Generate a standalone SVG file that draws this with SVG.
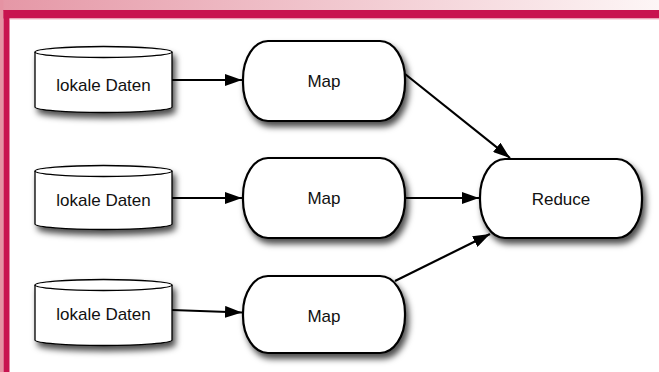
<svg xmlns="http://www.w3.org/2000/svg" width="659" height="372" viewBox="0 0 659 372">
<defs>
<linearGradient id="topg" x1="0" y1="0" x2="1" y2="0">
<stop offset="0" stop-color="#e597a6"/>
<stop offset="1" stop-color="#fdf6f6"/>
</linearGradient>
<filter id="sh" x="-20%" y="-20%" width="150%" height="160%">
<feDropShadow dx="3" dy="5" stdDeviation="3" flood-color="#000" flood-opacity="0.7"/>
</filter>
<marker id="ah" viewBox="0 0 17 12" refX="17" refY="6" markerWidth="17" markerHeight="12" markerUnits="userSpaceOnUse" orient="auto">
<path d="M0,0 L17,6 L0,12 Z" fill="#000"/>
</marker>
<style>
.node{fill:#fff;stroke:#000;stroke-width:2.2;filter:url(#sh)}
.cyl{fill:#fff;stroke:#000;stroke-width:1.3;filter:url(#sh)}
.cyl2{fill:none;stroke:#000;stroke-width:1.3}
.lbl{font-family:"Liberation Sans",Arial,sans-serif;font-size:17px;fill:#111;text-anchor:middle}
.edge{stroke:#000;stroke-width:2.2;fill:none;marker-end:url(#ah)}
</style>
</defs>
<rect x="0" y="0" width="659" height="372" fill="#fff"/>
<rect x="0" y="0" width="659" height="11" fill="url(#topg)"/>
<rect x="0" y="0" width="3.5" height="372" fill="#e593a3"/>
<rect x="3.5" y="10" width="655.5" height="8.5" fill="#c8134f"/>
<rect x="3.5" y="10" width="6" height="362" fill="#c8134f"/>
<rect x="9.5" y="18.5" width="649.5" height="1" fill="#f2b9c6"/>

<g id="cyl1">
<path class="cyl" d="M35,52 A68.5,5.5 0 0 1 172,52 L172,107 A68.5,5.5 0 0 1 35,107 Z"/>
<path class="cyl2" d="M35,52 A68.5,5.5 0 0 0 172,52"/>
<text class="lbl" x="103.5" y="91">lokale Daten</text>
</g>
<g id="cyl2">
<path class="cyl" d="M35,171 A68.5,5.5 0 0 1 172,171 L172,224 A68.5,5.5 0 0 1 35,224 Z"/>
<path class="cyl2" d="M35,171 A68.5,5.5 0 0 0 172,171"/>
<text class="lbl" x="103.5" y="206">lokale Daten</text>
</g>
<g id="cyl3">
<path class="cyl" d="M35,285 A68.5,5.5 0 0 1 172,285 L172,340 A68.5,5.5 0 0 1 35,340 Z"/>
<path class="cyl2" d="M35,285 A68.5,5.5 0 0 0 172,285"/>
<text class="lbl" x="103.5" y="320">lokale Daten</text>
</g>

<g id="map1">
<rect class="node" x="243" y="41" width="162" height="80" rx="25" ry="38"/>
<text class="lbl" x="324" y="87">Map</text>
</g>
<g id="map2">
<rect class="node" x="243" y="158" width="162" height="80" rx="25" ry="38"/>
<text class="lbl" x="324" y="204">Map</text>
</g>
<g id="map3">
<rect class="node" x="243" y="276" width="162" height="77" rx="25" ry="37"/>
<text class="lbl" x="324" y="322">Map</text>
</g>
<g id="reduce">
<rect class="node" x="480" y="159" width="162" height="79" rx="25" ry="38"/>
<text class="lbl" x="561" y="205">Reduce</text>
</g>

<g id="connectors">
<line class="edge" x1="172" y1="80" x2="242" y2="80"/>
<line class="edge" x1="172" y1="198" x2="242" y2="198"/>
<line class="edge" x1="172" y1="310" x2="242" y2="312.5"/>
<line class="edge" x1="405" y1="74" x2="510" y2="158"/>
<line class="edge" x1="405" y1="198" x2="479" y2="198"/>
<line class="edge" x1="395" y1="281" x2="490" y2="234"/>
</g>
</svg>
